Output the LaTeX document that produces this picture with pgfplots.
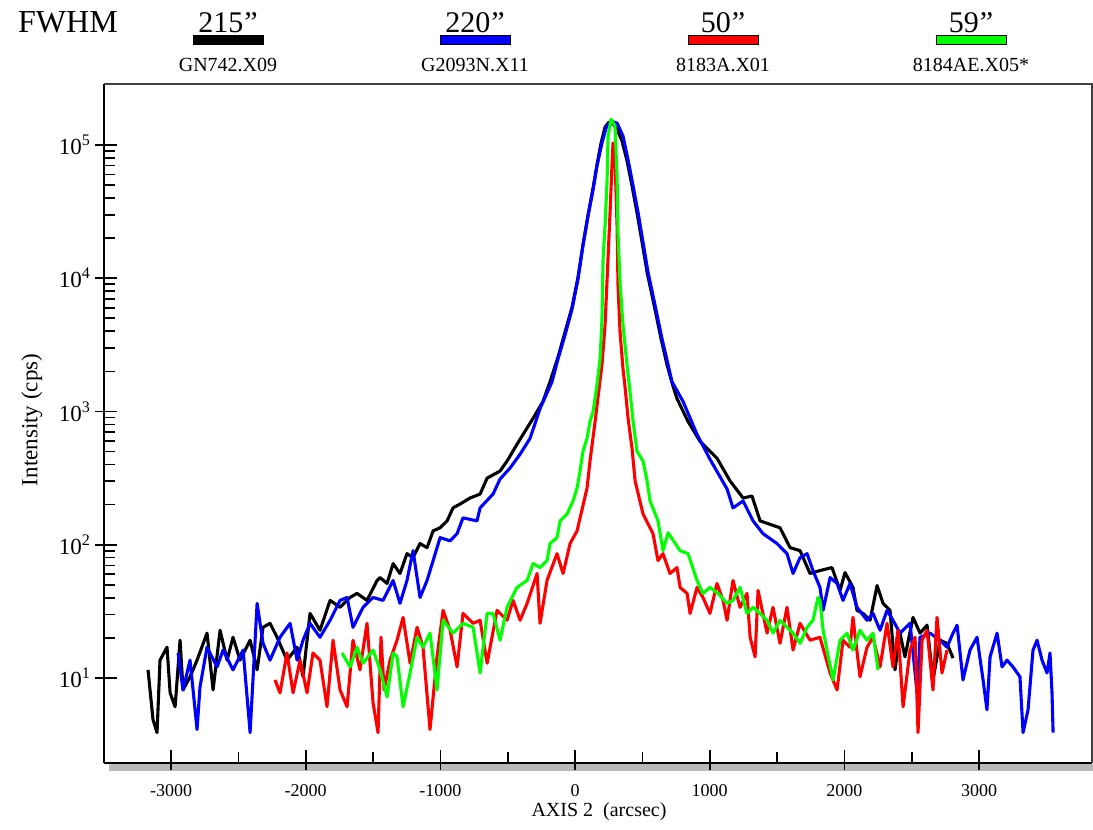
\documentclass[border=0pt]{standalone}
\usepackage{fontspec}
\setmainfont{Liberation Serif}
\usepackage{pgfplots}
\pgfplotsset{compat=1.18}
\begin{document}
\begin{tikzpicture}
\path[use as bounding box] (0pt,0pt) rectangle (1093pt,830pt);
% shadow under the bottom axis
\fill[gray!55] (109pt,59pt) rectangle (1093pt,66pt);
\begin{axis}[
  at={(104pt,67pt)}, anchor=south west,
  scale only axis, width=988pt, height=679pt,
  xmin=-3498, xmax=3839,
  ymode=log, ymin=2.30, ymax=2.87e5,
  axis x line*=bottom, axis y line*=left,
  x axis line style={line width=2.2pt,-},
  y axis line style={line width=1.6pt,-},
  xtick={-3000,-2000,-1000,0,1000,2000,3000},
  xticklabels={-3000,-2000,-1000,0,1000,2000,3000},
  minor x tick num=1,
  ytick={10,100,1000,10000,100000},
  yticklabels={10\textsuperscript{1},10\textsuperscript{2},10\textsuperscript{3},10\textsuperscript{4},10\textsuperscript{5}},
  tick align=inside,
  major tick length=13pt, minor tick length=11pt,
  tick style={black, line width=1.7pt},
  extra x ticks={-3000,-2000,-1000,0,1000,2000,3000},
  extra x tick labels={},
  extra x tick style={tick align=outside, major tick length=7pt},
  extra y ticks={10,100,1000,10000,100000},
  extra y tick labels={},
  extra y tick style={tick align=outside, major tick length=9pt},
  xticklabel style={font=\fontsize{18}{18}\selectfont, anchor=base, inner sep=1pt, yshift=-34pt},
  yticklabel style={font=\fontsize{23}{23}\selectfont, anchor=east, xshift=-10pt},
  every axis plot/.append style={line width=3.1pt, line join=round},
]
\addplot[black] coordinates {(-3171,11.5)(-3134,4.86)(-3104,3.89)(-3082,13.6)(-3030,17.0)(-3007,7.73)(-2970,6.08)(-2933,19.2)(-2911,8.13)(-2859,10.2)(-2807,13.6)(-2733,21.7)(-2688,8.13)(-2636,22.8)(-2584,13.6)(-2540,20.2)(-2488,13.6)(-2413,19.2)(-2361,11.5)(-2317,24.0)(-2265,25.7)(-2213,20.2)(-2139,13.6)(-2064,17.0)(-2020,10.2)(-1968,30.5)(-1894,22.8)(-1819,38.2)(-1745,33.9)(-1671,40.2)(-1619,43.1)(-1545,38.2)(-1470,53.9)(-1448,56.7)(-1396,51.2)(-1351,72.2)(-1300,60.8)(-1248,85.7)(-1203,80.0)(-1151,102)(-1099,95.0)(-1054,127)(-1002,134)(-950,151)(-906,189)(-854,202)(-780,224)(-705,240)(-653,316)(-557,357)(-505,424)(-431,567)(-386,673)(-312,887)(-238,1190)(-186,1670)(-126,2570)(-74,3960)(-22,6080)(22,10200)(59,17900)(97,30000)(134,47800)(163,71000)(193,103500)(223,136300)(252,148600)(282,143600)(312,131600)(349,107000)(386,76000)(423,49400)(460,31100)(498,18600)(535,11100)(587,6290)(639,3510)(683,2240)(728,1540)(757,1250)(839,842)(928,597)(1054,446)(1151,301)(1248,224)(1314,232)(1374,151)(1522,134)(1597,95.0)(1671,90.2)(1745,60.8)(1819,64.0)(1908,67.4)(1968,45.4)(2005,61.8)(2064,47.8)(2094,32.2)(2139,30.5)(2191,27.1)(2243,49.4)(2287,36.3)(2339,32.2)(2376,11.5)(2413,21.7)(2450,14.4)(2510,28.5)(2562,21.7)(2614,24.9)(2658,9.66)(2710,19.2)(2762,18.2)(2807,14.1)};
\addplot[blue] coordinates {(-2948,15.4)(-2911,8.13)(-2859,13.6)(-2807,4.10)(-2785,8.57)(-2733,17.0)(-2658,12.1)(-2614,16.2)(-2540,11.5)(-2465,16.2)(-2413,3.89)(-2361,36.3)(-2317,18.2)(-2265,13.6)(-2191,20.2)(-2116,25.7)(-2064,13.6)(-2020,19.2)(-1968,25.7)(-1894,20.2)(-1819,27.1)(-1745,38.2)(-1693,40.2)(-1649,24.0)(-1574,33.9)(-1500,40.2)(-1426,38.2)(-1351,53.9)(-1300,36.3)(-1248,53.9)(-1203,90.2)(-1151,40.2)(-1099,53.9)(-1054,76.0)(-1002,113)(-928,107)(-876,121)(-832,159)(-728,151)(-705,189)(-609,240)(-557,311)(-483,376)(-408,478)(-334,629)(-260,1050)(-171,1670)(-126,2490)(-74,3760)(-22,5880)(22,9830)(59,17600)(97,29500)(134,46100)(163,69700)(200,103500)(230,134000)(267,151000)(312,146000)(356,116700)(394,77300)(431,49400)(468,31100)(505,18600)(542,11100)(594,6290)(646,3510)(691,2240)(720,1670)(802,1190)(906,673)(1002,438)(1129,262)(1173,189)(1248,213)(1322,151)(1396,121)(1500,102)(1574,85.7)(1619,60.8)(1671,80.0)(1723,85.7)(1767,64.0)(1819,47.8)(1842,32.2)(1894,56.7)(1946,51.2)(1990,38.2)(2042,51.2)(2094,33.9)(2168,27.1)(2213,30.5)(2265,22.8)(2317,32.2)(2361,27.1)(2413,21.7)(2488,25.7)(2540,7.73)(2562,20.2)(2636,21.7)(2710,19.2)(2762,17.0)(2807,21.7)(2837,24.9)(2881,9.66)(2933,16.2)(2985,20.2)(3030,9.66)(3059,5.77)(3082,14.4)(3134,21.7)(3171,12.1)(3208,13.6)(3252,12.1)(3304,10.2)(3327,3.89)(3364,5.77)(3401,16.2)(3431,19.2)(3468,13.6)(3505,10.9)(3527,15.4)(3542,7.73)(3550,3.89)};
\addplot[red] coordinates {(-2228,9.66)(-2191,7.73)(-2139,15.4)(-2094,7.73)(-2042,13.6)(-1990,7.73)(-1946,15.4)(-1894,13.6)(-1842,6.08)(-1797,19.2)(-1745,8.13)(-1693,6.08)(-1649,19.2)(-1597,11.5)(-1545,25.7)(-1500,6.51)(-1463,3.89)(-1441,20.2)(-1418,8.13)(-1374,13.6)(-1322,19.2)(-1277,28.5)(-1225,12.9)(-1173,24.0)(-1129,17.0)(-1077,4.10)(-1025,14.4)(-980,32.2)(-928,22.8)(-876,12.1)(-832,30.5)(-757,25.7)(-705,27.1)(-653,12.9)(-579,32.2)(-505,27.1)(-460,38.2)(-408,27.1)(-356,36.3)(-282,60.8)(-260,25.7)(-208,53.9)(-134,85.7)(-89,60.8)(-37,102)(15,127)(89,266)(111,424)(149,842)(171,1290)(200,2240)(223,4460)(238,9830)(260,31100)(275,73400)(282,103500)(297,77300)(312,24900)(319,8870)(334,3960)(356,2100)(371,1540)(394,887)(423,530)(446,301)(505,170)(579,121)(616,76.0)(653,85.7)(705,60.8)(757,67.4)(780,47.8)(832,43.1)(854,30.5)(906,47.8)(950,40.2)(1002,30.5)(1054,51.2)(1099,38.2)(1129,27.1)(1173,53.9)(1225,33.9)(1277,43.1)(1300,20.2)(1337,14.4)(1359,45.4)(1426,21.7)(1470,33.9)(1522,18.2)(1574,33.9)(1619,16.2)(1671,25.7)(1745,19.2)(1819,20.2)(1894,10.9)(1946,8.13)(1990,19.2)(2042,17.0)(2064,28.5)(2116,10.2)(2168,17.0)(2213,20.2)(2265,12.1)(2317,25.7)(2361,12.1)(2398,22.8)(2436,6.08)(2488,16.2)(2525,20.2)(2547,3.89)(2577,19.2)(2614,22.8)(2658,8.13)(2688,28.5)(2725,10.9)(2762,16.2)};
\addplot[green] coordinates {(-1730,15.4)(-1671,12.1)(-1619,17.0)(-1574,12.9)(-1500,16.2)(-1448,11.5)(-1396,7.21)(-1351,15.4)(-1322,14.4)(-1277,6.08)(-1225,10.9)(-1173,20.2)(-1129,17.0)(-1077,21.7)(-1025,8.13)(-980,27.1)(-906,21.7)(-832,25.7)(-757,24.0)(-705,10.9)(-653,30.5)(-609,30.5)(-557,19.2)(-505,33.9)(-431,47.8)(-356,53.9)(-312,72.2)(-260,67.4)(-208,76.0)(-186,102)(-134,113)(-111,151)(-59,170)(-15,213)(15,266)(37,357)(59,503)(89,629)(111,842)(134,1000)(163,1590)(186,2490)(200,4940)(208,13900)(223,24900)(238,54800)(245,116700)(267,156000)(297,138700)(312,58700)(319,22000)(334,9340)(356,4460)(386,2240)(408,1410)(431,842)(460,503)(505,424)(535,301)(557,213)(616,151)(653,90.2)(691,123)(780,90.2)(839,85.7)(906,53.9)(950,43.1)(1002,47.8)(1062,43.1)(1129,36.3)(1173,38.2)(1225,47.8)(1277,30.5)(1322,33.9)(1374,30.5)(1426,27.1)(1470,21.7)(1522,27.1)(1574,24.0)(1619,21.7)(1671,18.2)(1723,24.0)(1767,27.1)(1804,40.2)(1819,38.2)(1842,22.8)(1871,16.2)(1916,9.66)(1968,19.2)(2020,21.7)(2064,16.2)(2116,22.8)(2168,19.2)(2213,21.7)(2250,11.5)};
\end{axis}
% top and right frame lines
\draw[black!75, line width=1.2pt] (104pt,746pt) -- (1092pt,746pt) -- (1092pt,67pt);
% axis titles
\node[rotate=90, font=\fontsize{23}{23}\selectfont] at (32pt,410pt) {Intensity (cps)};
\node[anchor=base, inner sep=1pt, font=\fontsize{20}{20}\selectfont] at (599pt,13pt) {AXIS 2\ \ (arcsec)};
% FWHM legend
\node[anchor=base west, inner sep=0pt, font=\fontsize{32}{32}\selectfont] at (18pt,797pt) {FWHM};
\foreach \cx/\val/\nm/\col in {228/215/GN742.X09/black, 475/220/G2093N.X11/blue, 723/50/8183A.X01/red, 971/59/8184AE.X05*/green}{
  \node[anchor=base, inner sep=0pt, font=\fontsize{30}{30}\selectfont] at (\cx pt,797pt) {\val\kern1pt”};
  \filldraw[fill=\col, draw=black, line width=1pt] (\cx pt-35pt,785pt) rectangle (\cx pt+35pt,794pt);
  \node[anchor=base, inner sep=0pt, font=\fontsize{20}{20}\selectfont] at (\cx pt,758pt) {\nm};
}
\end{tikzpicture}
\end{document}
